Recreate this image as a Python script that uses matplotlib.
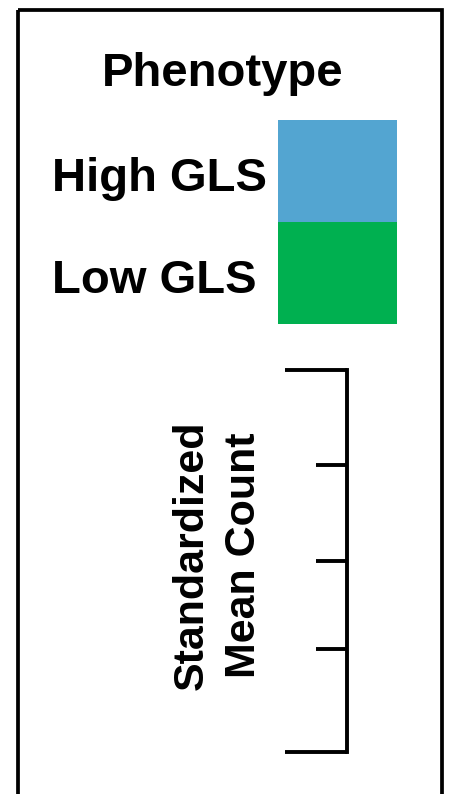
import matplotlib.pyplot as plt
from matplotlib.patches import Rectangle

plt.rcParams['font.family'] = ['Liberation Sans', 'DejaVu Sans']

# legend content
title = 'Phenotype'
phenotypes = ['High GLS', 'Low GLS']
colors = ['#53A5D1', '#00B050']

# scale bar for standardized mean count
scale_label = 'Standardized\nMean Count'
scale_min, scale_max = 0.0, 1.0
scale_minor = [0.27, 0.50, 0.75]

W, H = 450, 794
fig = plt.figure(figsize=(W / 100, H / 100), dpi=100)

# pixel-based canvas for the box, title and swatches
ax = fig.add_axes([0, 0, 1, 1])
ax.set_xlim(0, W)
ax.set_ylim(H, 0)
ax.axis('off')

ax.add_patch(Rectangle((18, 10), 424, 830, fill=False, lw=2.7, ec='black', clip_on=True))
ax.text(223, 86, title, fontsize=34, fontweight='bold', ha='center', va='baseline')

sw_top, sw_h = 120, 102
for i, (lab, col) in enumerate(zip(phenotypes, colors)):
    y0 = sw_top + i * sw_h
    ax.add_patch(Rectangle((278, y0), 119, sw_h, fc=col, ec='none'))
    ax.text(52, y0 + 71, lab, fontsize=34, fontweight='bold', ha='left', va='baseline')

ax.text(218, 555, scale_label, fontsize=31, fontweight='bold', rotation=90,
        ha='center', va='center', multialignment='center', linespacing=1.4)

# the scale axis itself
sax = fig.add_axes([285 / W, 42 / H, 62 / W, 382 / H])
sax.set_ylim(scale_min, scale_max)
sax.set_xlim(0, 1)
for s in ['left', 'top', 'bottom']:
    sax.spines[s].set_visible(False)
sax.spines['right'].set_linewidth(2.8)
sax.patch.set_alpha(0)
sax.set_xticks([])
sax.yaxis.set_ticks_position('right')
sax.set_yticks([scale_min, scale_max])
sax.set_yticks(scale_minor, minor=True)
sax.tick_params(axis='y', which='major', direction='in', length=44.6, width=2.8,
                labelright=False)
sax.tick_params(axis='y', which='minor', direction='in', length=22, width=2.8)

fig.savefig('out.png', dpi=100)
